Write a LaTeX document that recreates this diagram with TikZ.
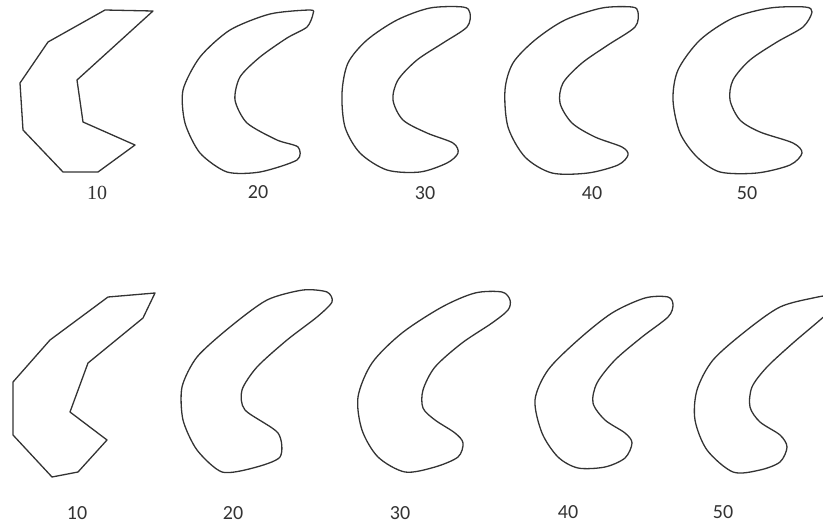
\documentclass[tikz,border=0pt]{standalone}
\usepackage{fontspec}
\newfontfamily\labelfont{Carlito}
\newfontfamily\seriflabelfont{Liberation Serif}
\begin{document}
\begin{tikzpicture}[x=1pt,y=-1pt,
  outline/.style={draw=black!80,line width=1.3pt,line join=round},
  lbl/.style={font=\labelfont\fontsize{20}{24}\selectfont,text=black!80}]
\useasboundingbox (0,0) rectangle (823,525);
\clip (0,0) rectangle (823,525);

% top row
\draw[outline] (105,10) -- (153,11) -- (77,80) -- (83,122) -- (135,145) -- (98,172)
  -- (63,172) -- (23,130) -- (20,83) -- (48,42) -- cycle;
\draw[outline] plot[smooth cycle,tension=0.45] coordinates {(310,10) (270,14) (230,30)
  (200,57) (183,90) (185,123) (200,153) (227,172) (260,172) (297,160) (298,147)
  (277,140) (247,123) (235,100) (240,77) (260,57) (287,38) (307,27) (313,14)};
\draw[outline] plot[smooth cycle] coordinates {(470,13) (463,7) (430,8) (397,20)
  (367,40) (348,63) (342,93) (345,127) (360,153) (387,170) (420,172) (447,163)
  (458,153) (453,143) (427,133) (403,120) (393,100) (398,80) (417,60) (443,43) (467,27)};
\draw[outline] plot[smooth cycle] coordinates {(638,12) (632,7) (602,8) (565,20)
  (535,40) (513,63) (505,90) (508,127) (525,157) (552,173) (588,173) (618,165)
  (628,155) (622,147) (595,137) (572,123) (560,103) (563,83) (582,63) (608,45) (635,27)};
\draw[outline] plot[smooth cycle] coordinates {(812,12) (805,7) (770,8) (733,18)
  (700,40) (678,70) (673,100) (680,133) (697,157) (720,172) (757,173) (790,165)
  (802,153) (793,143) (760,132) (740,120) (730,100) (733,80) (750,60) (777,42) (803,27)};

\node[lbl] (t10) at (97,193) {\seriflabelfont 10};
\node[lbl] (t20) at (258,192) {20};
\node[lbl] (t30) at (425,193) {30};
\node[lbl] (t40) at (592,193) {40};
\node[lbl] (t50) at (747,193) {50};

% bottom row
\draw[outline] (108,297) -- (155,293) -- (143,318) -- (88,363) -- (70,412) -- (107,440)
  -- (78,472) -- (52,477) -- (13,435) -- (13,382) -- (50,340) -- cycle;
\draw[outline] plot[smooth cycle,tension=0.45] coordinates {(332,302) (327,292)
  (303,290) (267,300) (230,327) (197,357) (182,387) (183,420) (197,450) (222,472)
  (253,468) (280,457) (278,433) (245,410) (242,390) (257,367) (287,340) (317,317)};
\draw[outline] plot[smooth cycle] coordinates {(510,300) (502,292) (475,293) (442,307)
  (402,333) (372,363) (358,397) (362,430) (378,457) (405,472) (435,467) (458,457)
  (463,443) (455,433) (435,420) (423,408) (423,390) (435,367) (462,343) (492,323) (508,310)};
\draw[outline] plot[smooth cycle] coordinates {(673,305) (668,297) (645,298) (612,313)
  (578,340) (548,370) (535,400) (542,433) (558,457) (578,468) (605,467) (625,458)
  (632,443) (625,433) (605,420) (593,403) (597,383) (615,360) (642,337) (668,317)};
\draw[outline] plot[smooth cycle] coordinates {(836,305) (830,296) (813,298) (780,307)
  (747,330) (713,360) (697,390) (695,420) (707,450) (733,472) (760,470) (780,462)
  (787,447) (780,435) (760,422) (750,407) (752,387) (767,367) (793,343) (820,320)};

\node[lbl] (b10) at (77,513) {10};
\node[lbl] (b20) at (233,513) {20};
\node[lbl] (b30) at (400,513) {30};
\node[lbl] (b40) at (568,512) {40};
\node[lbl] (b50) at (723,512) {50};
\end{tikzpicture}
\end{document}
